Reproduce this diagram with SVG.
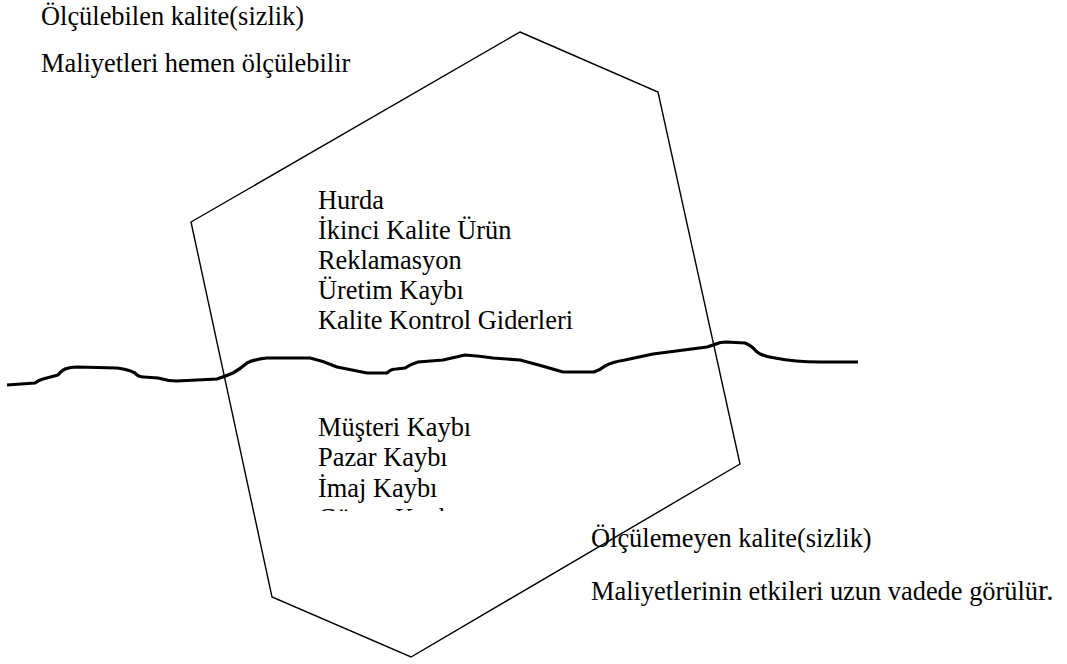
<svg xmlns="http://www.w3.org/2000/svg" width="1067" height="664" viewBox="0 0 1067 664">
  <style>
    text { font-family: "Liberation Serif", "Times New Roman", serif; font-size: 26.4px; fill: #000; }
    .hex { fill: none; stroke: #000; stroke-width: 1.4; stroke-linejoin: miter; }
    .wave { fill: none; stroke: #000; stroke-width: 3.2; stroke-linejoin: round; stroke-linecap: butt; }
  </style>
  <defs>
    <clipPath id="lowerListClip">
      <rect x="300" y="400" width="300" height="111"/>
    </clipPath>
  </defs>
  <rect width="1067" height="664" fill="#fff"/>

  <!-- hexagon outline -->
  <g id="hexagon">
    <polygon class="hex" points="520,32 658,92 740,464 411,657 272,597 191,222"/>
  </g>

  <!-- waterline separating measurable from hidden costs -->
  <g id="connectors">
    <path class="wave" d="M7,385 L35,383 Q39,380 43,379 L58,375 Q61,371 65,369 Q70,367 77,367 L117,368 Q127,369 135,373 Q138,377 144,377 L158,378 Q168,381 177,381 L217,379 Q226,376 233,373 Q240,369 247,363 Q255,359 267,358 L310,358 Q324,361 337,367 L367,373 L387,373 Q391,369 396,369 L405,368 Q411,364 418,362 L443,360 L465,355 Q480,356 493,358 L520,360 Q543,366 563,372 L594,372 Q600,370 605,366 Q612,362 625,360 L653,354 L707,347 Q713,345 716,344 Q720,342 726,342 L745,343 Q752,346 755,350 Q760,356 775,358 Q795,362 820,362 L858,362"/>
  </g>

  <g id="top-label">
    <text x="41" y="25">Ölçülebilen kalite(sizlik)</text>
    <text x="41" y="72">Maliyetleri hemen ölçülebilir</text>
  </g>

  <g id="visible-costs">
    <text x="318" y="209">Hurda</text>
    <text x="318" y="239">İkinci Kalite Ürün</text>
    <text x="318" y="269">Reklamasyon</text>
    <text x="318" y="299">Üretim Kaybı</text>
    <text x="318" y="329">Kalite Kontrol Giderleri</text>
  </g>

  <g id="hidden-costs" clip-path="url(#lowerListClip)">
    <text x="318" y="436">Müşteri Kaybı</text>
    <text x="318" y="466">Pazar Kaybı</text>
    <text x="318" y="497">İmaj Kaybı</text>
    <text x="318" y="527">Güven Kaybı</text>
  </g>

  <g id="bottom-label">
    <text x="591" y="547">Ölçülemeyen kalite(sizlik)</text>
    <text x="591" y="600">Maliyetlerinin etkileri uzun vadede görülü<tspan font-size="29.5">r.</tspan></text>
  </g>
</svg>
